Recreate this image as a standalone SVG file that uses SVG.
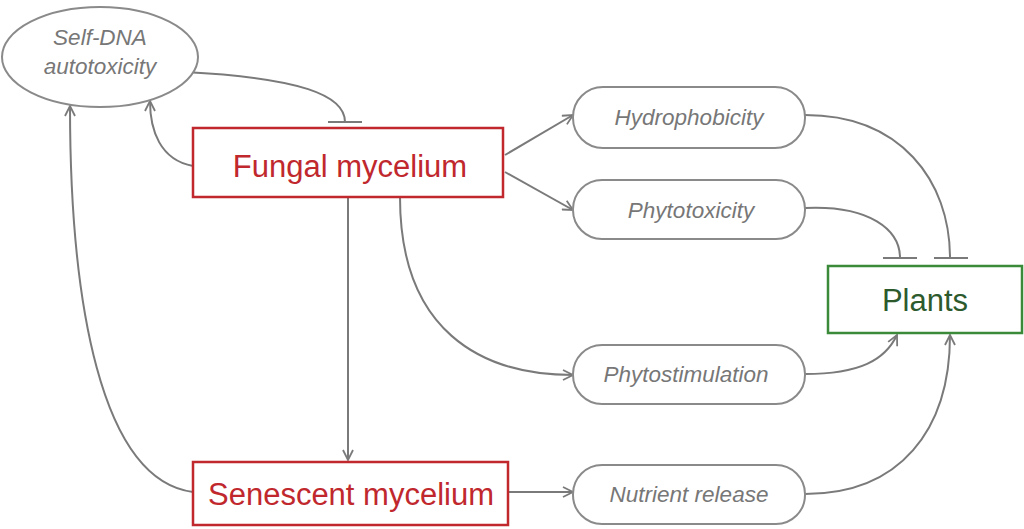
<svg xmlns="http://www.w3.org/2000/svg" width="1024" height="529" viewBox="0 0 1024 529">
<style>
.c{fill:none;stroke:#7a7a7a;stroke-width:2}
.p{fill:#fff;stroke:#8a8a8a;stroke-width:2}
.pt{font-family:"Liberation Sans",Arial,sans-serif;font-style:italic;font-size:22.5px;fill:#777;text-anchor:middle}
.red{fill:#fff;stroke:#c0282d;stroke-width:2.5}
.rt{font-family:"Liberation Sans",Arial,sans-serif;font-size:31px;fill:#c0282d;text-anchor:middle}
</style>
<defs>
<marker id="a" viewBox="0 0 12 12" refX="11" refY="6" markerWidth="12" markerHeight="12" markerUnits="userSpaceOnUse" orient="auto">
<path d="M1,1 L11,6 L1,11" fill="none" stroke="#7a7a7a" stroke-width="1.8"/>
</marker>
</defs>
<g id="connectors">
<path class="c" d="M193,166 C160,160 150,130 150,101" marker-end="url(#a)"/>
<path class="c" d="M185,72 C300,78 345,95 345,122"/>
<path class="c" d="M328,122 H362"/>
<path class="c" d="M193,492 C100,480 70,300 70,106" marker-end="url(#a)"/>
<path class="c" d="M348,197 V460" marker-end="url(#a)"/>
<path class="c" d="M505,155 L573,115" marker-end="url(#a)"/>
<path class="c" d="M505,172 L573,210" marker-end="url(#a)"/>
<path class="c" d="M400,197 C400,330 480,375 573,375" marker-end="url(#a)"/>
<path class="c" d="M508,492 H573" marker-end="url(#a)"/>
<path class="c" d="M805,115 C900,115 950,180 950,258"/>
<path class="c" d="M934,258 H968"/>
<path class="c" d="M805,208 C870,205 900,230 900,258"/>
<path class="c" d="M883,258 H917"/>
<path class="c" d="M805,374 C860,374 885,360 897,335" marker-end="url(#a)"/>
<path class="c" d="M805,494 C900,494 950,430 950,335" marker-end="url(#a)"/>
</g>
<g id="selfdna"><ellipse class="p" cx="100" cy="57" rx="98" ry="50"/><text class="pt" x="100" y="45">Self-DNA</text><text class="pt" x="100" y="74">autotoxicity</text></g>
<g id="fungal"><rect class="red" x="193" y="128" width="310" height="69"/><text class="rt" x="350" y="177">Fungal mycelium</text></g>
<g id="senescent"><rect class="red" x="193" y="462" width="315" height="63"/><text class="rt" x="351" y="505">Senescent mycelium</text></g>
<g id="plants"><rect x="828" y="266" width="194" height="67" fill="#fff" stroke="#3a8a3a" stroke-width="2.5"/><text x="925" y="311" font-family="Liberation Sans,Arial,sans-serif" font-size="31" fill="#2d5a2d" text-anchor="middle">Plants</text></g>
<g id="hydro"><rect class="p" x="573" y="87" width="232" height="61" rx="30"/><text class="pt" x="689" y="125">Hydrophobicity</text></g>
<g id="phytotox"><rect class="p" x="573" y="180" width="232" height="59" rx="29"/><text class="pt" x="691" y="218">Phytotoxicity</text></g>
<g id="phytostim"><rect class="p" x="573" y="345" width="232" height="59" rx="29"/><text class="pt" x="686" y="382">Phytostimulation</text></g>
<g id="nutrient"><rect class="p" x="573" y="465" width="232" height="59" rx="29"/><text class="pt" x="689" y="502">Nutrient release</text></g>
</svg>
